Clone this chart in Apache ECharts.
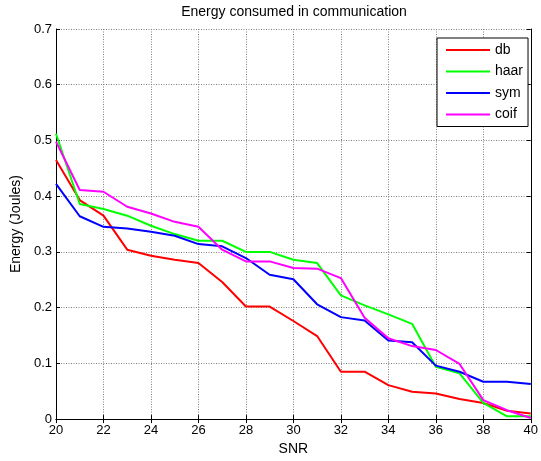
<!DOCTYPE html>
<html>
<head>
<meta charset="utf-8">
<script src="https://cdn.jsdelivr.net/npm/echarts@6/dist/echarts.min.js"></script>
<style>html,body{margin:0;padding:0;background:#fff}#c{width:541px;height:461px}</style>
</head>
<body>
<div id="c"></div>
<script>
const snr = [20,21,22,23,24,25,26,27,28,29,30,31,32,33,34,35,36,37,38,39,40];
const db   = [0.465,0.393,0.365,0.304,0.293,0.286,0.280,0.246,0.202,0.202,0.176,0.149,0.085,0.085,0.061,0.049,0.046,0.036,0.029,0.015,0.010];
const haar = [0.512,0.386,0.377,0.365,0.347,0.332,0.320,0.320,0.300,0.300,0.286,0.280,0.222,0.204,0.188,0.171,0.094,0.082,0.029,0.005,0.005];
const sym  = [0.422,0.364,0.345,0.342,0.336,0.329,0.314,0.310,0.289,0.259,0.251,0.206,0.183,0.177,0.141,0.138,0.096,0.085,0.067,0.067,0.063];
const coif = [0.498,0.411,0.408,0.381,0.369,0.354,0.345,0.304,0.283,0.283,0.271,0.270,0.253,0.182,0.145,0.131,0.124,0.099,0.034,0.016,0.002];
const seriesNames = ['db','haar','sym','coif'];
const seriesColors = ['#ff0000','#00ff00','#0000ff','#ff00ff'];
const seriesData = [db, haar, sym, coif];

const font = 'Liberation Sans, Arial, sans-serif';
const chart = echarts.init(document.getElementById('c'), null, {renderer:'canvas'});
const gridLine = {show:true, lineStyle:{color:'#808080', type:[1,1.5], width:1}};
chart.setOption({
  animation:false,
  backgroundColor:'#fff',
  title:{text:'Energy consumed in communication', left:294, top:5, textAlign:'center', padding:0,
    textStyle:{fontFamily:font, fontSize:14, fontWeight:'normal', color:'#000'}},
  legend:{
    orient:'vertical', left:437, top:38,
    padding:[5,5,5,9], itemGap:7.5, itemWidth:44, itemHeight:14,
    borderColor:'#000', borderWidth:1, backgroundColor:'#fff',
    textStyle:{fontFamily:font, fontSize:14, color:'#000', padding:[0,0,0,0]},
    data:seriesNames.map(n=>({name:n, icon:'path://M0,0L44,0L44,2L0,2Z'}))
  },
  grid:{left:56, right:6, top:29, bottom:40},
  xAxis:[{
    type:'value', min:20, max:40, interval:2, name:'SNR', nameLocation:'middle', nameGap:22,
    nameTextStyle:{fontFamily:font, fontSize:14, color:'#000'},
    axisLine:{lineStyle:{color:'#000', width:1}},
    axisTick:{inside:true, length:4, lineStyle:{color:'#000'}},
    axisLabel:{fontFamily:font, fontSize:13, color:'#000', margin:5},
    splitLine:gridLine
  },{
    type:'value', min:20, max:40, interval:2, position:'top',
    axisLine:{lineStyle:{color:'#000', width:1}},
    axisTick:{inside:true, length:4, lineStyle:{color:'#000'}},
    axisLabel:{show:false}, splitLine:{show:false}
  }],
  yAxis:[{
    type:'value', min:0, max:0.7, interval:0.1, name:'Energy (Joules)', nameLocation:'middle', nameGap:32,
    nameTextStyle:{fontFamily:font, fontSize:14, color:'#000'},
    axisLine:{show:true, lineStyle:{color:'#000', width:1}},
    axisTick:{show:true, inside:true, length:4, lineStyle:{color:'#000'}},
    axisLabel:{fontFamily:font, fontSize:13, color:'#000', margin:4,
      formatter:v=>(Math.round(v*10)/10).toString()},
    splitLine:gridLine
  },{
    type:'value', min:0, max:0.7, interval:0.1, position:'right',
    axisLine:{show:true, lineStyle:{color:'#000', width:1}},
    axisTick:{show:true, inside:true, length:4, lineStyle:{color:'#000'}},
    axisLabel:{show:false}, splitLine:{show:false}
  }],
  series:seriesNames.map((n,i)=>({
    name:n, type:'line', symbol:'none', xAxisIndex:0, yAxisIndex:0,
    data:snr.map((x,j)=>[x, seriesData[i][j]]),
    lineStyle:{color:seriesColors[i], width:2}, itemStyle:{color:seriesColors[i]}
  }))
});
</script>
</body>
</html>
